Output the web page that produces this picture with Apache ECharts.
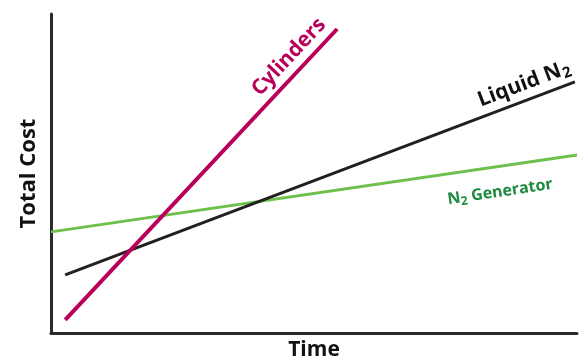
<!DOCTYPE html>
<html>
<head>
<meta charset="utf-8">
<script src="https://cdn.jsdelivr.net/npm/echarts@6/dist/echarts.min.js"></script>
<style>html,body{margin:0;padding:0;background:#fff}#c{width:584px;height:363px}</style>
</head>
<body>
<div id="c"></div>
<script>
const seriesNames = ['Cylinders', 'Liquid N2', 'N2 Generator'];
const cylinders = [[2.7, 4.1], [54.4, 95.3]];
const liquidN2 = [[2.7, 18.2], [99.6, 78.7]];
const n2Generator = [[0, 31.7], [100, 55.8]];
const xAxisName = 'Time';
const yAxisName = 'Total Cost';

const chart = echarts.init(document.getElementById('c'));
const FONT = 'Open Sans';
chart.setOption({
  animation: false,
  grid: { left: 51, right: 7, top: 14, bottom: 30, containLabel: false, outerBoundsMode: 'none' },
  xAxis: {
    type: 'value', min: 0, max: 100,
    axisLine: { show: true, lineStyle: { color: '#2b2b2b', width: 3 } },
    axisTick: { show: false }, axisLabel: { show: false }, splitLine: { show: false },
    name: xAxisName, nameLocation: 'middle', nameGap: 7,
    nameTextStyle: { fontFamily: FONT, fontWeight: 'bold', fontSize: 21, color: '#111', verticalAlign: 'top' }
  },
  yAxis: {
    type: 'value', min: 0, max: 100,
    axisLine: { show: true, lineStyle: { color: '#2b2b2b', width: 3 } },
    axisTick: { show: false }, axisLabel: { show: false }, splitLine: { show: false },
    name: yAxisName, nameLocation: 'middle', nameGap: 11, nameRotate: 90,
    nameTextStyle: { fontFamily: FONT, fontWeight: 'bold', fontSize: 22, color: '#111' }
  },
  series: [
    { name: seriesNames[2], type: 'line', data: n2Generator, symbol: 'none',
      lineStyle: { color: '#6dc04b', width: 3 }, z: 2 },
    { name: seriesNames[1], type: 'line', data: liquidN2, symbol: 'none',
      lineStyle: { color: '#231f20', width: 3 }, z: 3 },
    { name: seriesNames[0], type: 'line', data: cylinders, symbol: 'none',
      lineStyle: { color: '#b8005a', width: 4 }, z: 4 }
  ],
  graphic: [
    { type: 'text', x: 289, y: 57, rotation: 46.9 * Math.PI / 180,
      style: { text: 'Cylinders', fontFamily: FONT, fontWeight: 'bold', fontSize: 21, fill: '#b8005a', align: 'center', verticalAlign: 'middle' } },
    { type: 'text', x: 524, y: 84, rotation: 20.7 * Math.PI / 180,
      style: { text: '{a|Liquid N}{s|2}', fontFamily: FONT, fontWeight: 'bold', fontSize: 21, fill: '#111', align: 'center', verticalAlign: 'middle',
        rich: { a: { fontFamily: FONT, fontWeight: 'bold', fontSize: 21, fill: '#111', color: '#111' },
                s: { fontFamily: FONT, fontWeight: 'bold', fontSize: 15, fill: '#111', color: '#111', padding: [10, 0, 0, 1] } } } },
    { type: 'text', x: 500, y: 192, rotation: 8.5 * Math.PI / 180,
      style: { text: '{a|N}{s|2}{a| Generator}', fontFamily: FONT, fontWeight: 'bold', fontSize: 16, fill: '#1c8a3f', align: 'center', verticalAlign: 'middle',
        rich: { a: { fontFamily: FONT, fontWeight: 'bold', fontSize: 16, fill: '#1c8a3f', color: '#1c8a3f' },
                s: { fontFamily: FONT, fontWeight: 'bold', fontSize: 12, fill: '#1c8a3f', color: '#1c8a3f', padding: [8, 0, 0, 0] } } } }
  ]
});
</script>
</body>
</html>
